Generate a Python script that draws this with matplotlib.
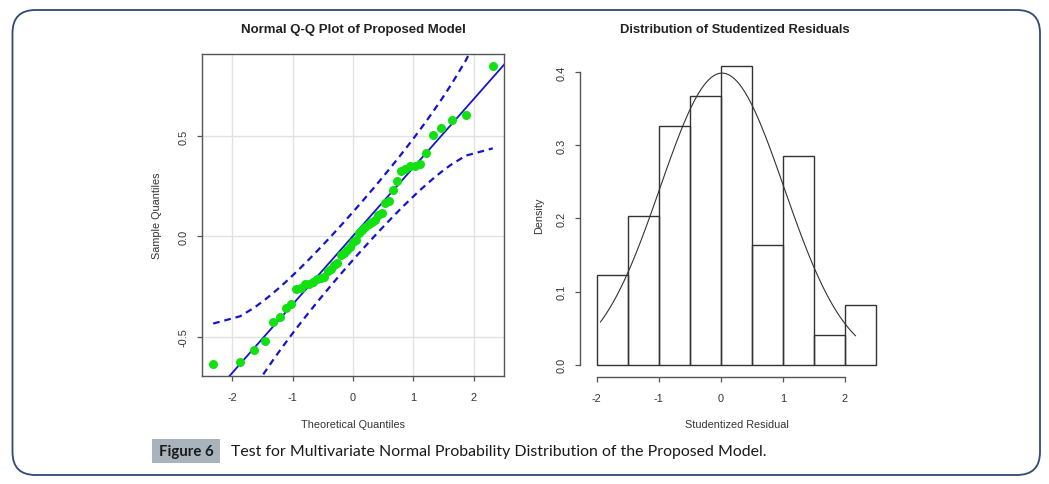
import numpy as np
import matplotlib
matplotlib.use('Agg')
import matplotlib.pyplot as plt
from matplotlib.patches import FancyBboxPatch, Rectangle
from statistics import NormalDist

# ----------------------------------------------------------------------------
# Dados
# ----------------------------------------------------------------------------
# Quantis amostrais (ordenados) do gráfico Q-Q, n = 49
sample_q = [-0.637, -0.628, -0.565, -0.520, -0.428, -0.403, -0.355, -0.337,
            -0.265, -0.258, -0.240, -0.237, -0.228, -0.215, -0.210, -0.205,
            -0.173, -0.162, -0.145, -0.135, -0.095, -0.082, -0.067, -0.053,
            -0.030, -0.018, 0.017, 0.033, 0.047, 0.062, 0.072, 0.080,
            0.105, 0.115, 0.168, 0.175, 0.232, 0.277, 0.325, 0.338,
            0.350, 0.352, 0.362, 0.417, 0.505, 0.542, 0.580, 0.605, 0.850]

# Histograma dos resíduos studentizados
hist_breaks = [-2.0, -1.5, -1.0, -0.5, 0.0, 0.5, 1.0, 1.5, 2.0, 2.5]
hist_counts = [3, 5, 8, 9, 10, 4, 7, 1, 2]

# Curva normal sobreposta
curve_min, curve_max = -1.94, 2.17
resid_mean, resid_sd = 0.02, 1.0

qq_xticks = [-2, -1, 0, 1, 2]
qq_yticks = [-0.5, 0.0, 0.5]
hist_xticks = [-2, -1, 0, 1, 2]
hist_yticks = [0.0, 0.1, 0.2, 0.3, 0.4]

# ----------------------------------------------------------------------------
W, H = 1049, 485
fig = plt.figure(figsize=(W / 100, H / 100), dpi=100)
plt.rcParams['font.family'] = ['Liberation Sans', 'DejaVu Sans']


def fx(x):
    return x / W


def fy(y):
    return 1 - y / H


# moldura arredondada (raio ~23 px)
fig.patches.append(FancyBboxPatch(
    (fx(12.5), fy(476)), fx(1040) - fx(12.5), fy(11) - fy(476),
    boxstyle='round,pad=0,rounding_size=%f' % (23 / W),
    transform=fig.transFigure, mutation_aspect=W / H,
    fill=False, edgecolor='#2f4a72', linewidth=1.3))

txtc = '#333333'
axc = '#555555'
lab_fs = 7.8
tick_fs = 7.9

# ----------------------------------------------------------------------------
# Q-Q plot
# ----------------------------------------------------------------------------
y = np.array(sample_q)
n = len(y)
nd = NormalDist()
P = (np.arange(1, n + 1) - 0.5) / n
z = np.array([nd.inv_cdf(p) for p in P])
q1, q3 = np.quantile(y, [0.25, 0.75])
b = (q3 - q1) / (nd.inv_cdf(0.75) - nd.inv_cdf(0.25))
a = q1 - b * nd.inv_cdf(0.25)
fit = a + b * z
se = (b / np.array([nd.pdf(v) for v in z])) * np.sqrt(P * (1 - P) / n)
zz = nd.inv_cdf(0.975)

ax1 = fig.add_axes([fx(202), fy(377), fx(504) - fx(202), fy(55) - fy(377)])
xr = z.max() - z.min()
yr = y.max() - y.min()
ax1.set_xlim(z.min() - 0.04 * xr, z.max() + 0.04 * xr)
ax1.set_ylim(y.min() - 0.04 * yr, y.max() + 0.04 * yr)
for t in qq_xticks:
    ax1.axvline(t, color='#e2e2e2', lw=1, zorder=0)
for t in qq_yticks:
    ax1.axhline(t, color='#e2e2e2', lw=1, zorder=0)
xl = np.array(ax1.get_xlim())
ax1.plot(xl, a + b * xl, color='#1414d0', lw=1.3, zorder=2)
ax1.plot(z, fit + zz * se, color='#1414d0', lw=1.6, ls=(0, (3, 2.2)), zorder=2)
ax1.plot(z, fit - zz * se, color='#1414d0', lw=1.6, ls=(0, (3, 2.2)), zorder=2)
ax1.plot(z, y, 'o', color='#11e011', ms=6.5, mec='none', zorder=3)
ax1.set_xticks(qq_xticks)
ax1.set_xticklabels(['-2', '-1', '0', '1', '2'])
ax1.set_yticks(qq_yticks)
ax1.set_yticklabels(['-0.5', '0.0', '0.5'], rotation=90, va='center')
for s in ax1.spines.values():
    s.set_color(axc)
    s.set_linewidth(1)
ax1.tick_params(length=3.6, width=0.9, color=axc, labelcolor=txtc,
                labelsize=tick_fs)
ax1.tick_params(axis='x', pad=8)
ax1.tick_params(axis='y', pad=6)

fig.text(fx(353), fy(30), 'Normal Q-Q Plot of Proposed Model',
         ha='center', va='center', fontsize=9.5, fontweight='bold',
         color='#222222')
fig.text(fx(353), fy(425), 'Theoretical Quantiles', ha='center',
         va='center', fontsize=lab_fs, color=txtc)
fig.text(fx(157), fy(216), 'Sample Quantiles', ha='center', va='center',
         rotation=90, fontsize=lab_fs, color=txtc)

# ----------------------------------------------------------------------------
# Histograma
# ----------------------------------------------------------------------------
edges = np.array(hist_breaks)
widths = np.diff(edges)
dens = np.array(hist_counts) / (np.sum(hist_counts) * widths)

ax2 = fig.add_axes([fx(580), fy(377.6), fx(884) - fx(580),
                    fy(55.4) - fy(377.6)])
ax2.set_xlim(-2.27, 2.63)
ax2.set_ylim(-0.04 * dens.max(), dens.max() * 1.04)
ax2.bar(edges[:-1], dens, width=widths, align='edge', fill=False,
        edgecolor='#333333', linewidth=1.0)
xc = np.linspace(curve_min, curve_max, 100)
ax2.plot(xc, [NormalDist(resid_mean, resid_sd).pdf(v) for v in xc],
         color='#333333', lw=0.8)
ax2.spines['top'].set_visible(False)
ax2.spines['right'].set_visible(False)
ax2.spines['left'].set_bounds(hist_yticks[0], hist_yticks[-1])
ax2.spines['bottom'].set_bounds(hist_xticks[0], hist_xticks[-1])
for s in ['left', 'bottom']:
    ax2.spines[s].set_color(axc)
    ax2.spines[s].set_linewidth(1)
ax2.set_xticks(hist_xticks)
ax2.set_xticklabels(['-2', '-1', '0', '1', '2'])
ax2.set_yticks(hist_yticks)
ax2.set_yticklabels(['0.0', '0.1', '0.2', '0.3', '0.4'], rotation=90,
                    va='center')
ax2.tick_params(length=3.6, width=0.9, color=axc, labelcolor=txtc,
                labelsize=tick_fs)
ax2.tick_params(axis='x', pad=8)
ax2.tick_params(axis='y', pad=6)

fig.text(fx(735), fy(30), 'Distribution of Studentized Residuals',
         ha='center', va='center', fontsize=9.4, fontweight='bold',
         color='#222222')
fig.text(fx(737), fy(425), 'Studentized Residual', ha='center',
         va='center', fontsize=lab_fs, color=txtc)
fig.text(fx(539), fy(216), 'Density', ha='center', va='center',
         rotation=90, fontsize=lab_fs, color=txtc)

# ----------------------------------------------------------------------------
# Legenda da figura
# ----------------------------------------------------------------------------
fig.patches.append(Rectangle((fx(152), fy(464)), fx(220) - fx(152),
                             fy(440) - fy(464), transform=fig.transFigure,
                             facecolor='#a9b3bc', edgecolor='none'))
fig.text(fx(186), fy(452.5), 'Figure 6', ha='center', va='center',
         fontsize=10.8, fontweight='bold', color='#1a1a1a',
         family=['Lato', 'DejaVu Sans'])
fig.text(fx(231), fy(452.5),
         'Test for Multivariate Normal Probability Distribution of the '
         'Proposed Model.', ha='left', va='center', fontsize=11.4,
         color='#1a1a1a', family=['Lato', 'DejaVu Sans'])

fig.savefig('out.png', dpi=100)
